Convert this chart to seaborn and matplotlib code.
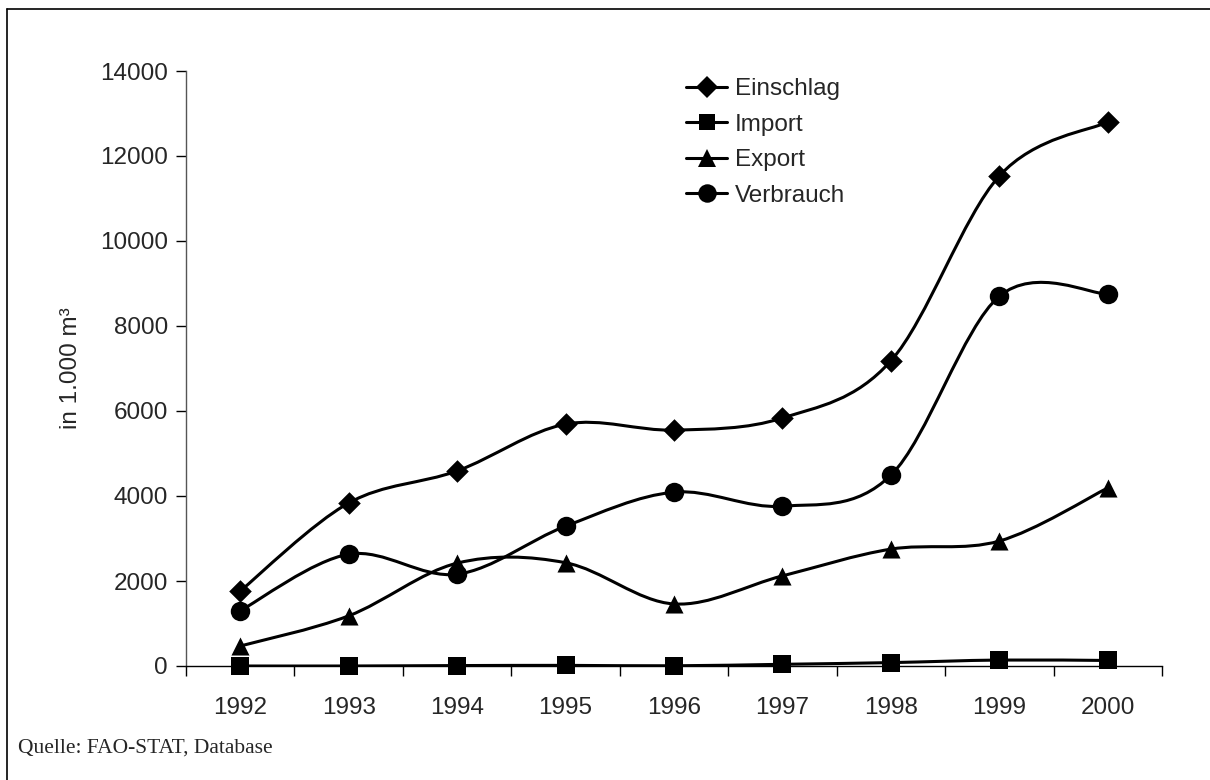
import numpy as np
import matplotlib
matplotlib.use("Agg")
import matplotlib.pyplot as plt
from matplotlib.path import Path
from matplotlib.patches import PathPatch
from matplotlib.lines import Line2D
import seaborn as sns

sns.set_theme(style="white")
plt.rcParams['font.family'] = ['Liberation Sans', 'DejaVu Sans']

years = ['1992', '1993', '1994', '1995', '1996', '1997', '1998', '1999', '2000']
einschlag = [1765, 3835, 4590, 5690, 5550, 5835, 7180, 11530, 12800]
import_ = [0, 0, 10, 15, 5, 40, 80, 140, 130]
export = [470, 1180, 2420, 2430, 1460, 2120, 2750, 2940, 4190]
verbrauch = [1300, 2630, 2160, 3290, 4090, 3760, 4490, 8700, 8750]

series = [('Einschlag', einschlag, 'D', 11.5),
          ('Import', import_, 's', 12.5),
          ('Export', export, '^', 13),
          ('Verbrauch', verbrauch, 'o', 14)]

FS = 17.5


def smooth_path(xs, ys):
    # Excel-like smoothing: cubic Bezier with Catmull-Rom tangents
    pts = np.column_stack([xs, ys]).astype(float)
    n = len(pts)
    verts = [pts[0]]
    codes = [Path.MOVETO]
    for i in range(n - 1):
        p0 = pts[i - 1] if i > 0 else pts[i]
        p1, p2 = pts[i], pts[i + 1]
        p3 = pts[i + 2] if i + 2 < n else pts[i + 1]
        c1 = p1 + (p2 - p0) / 6.0
        c2 = p2 - (p3 - p1) / 6.0
        verts += [c1, c2, p2]
        codes += [Path.CURVE4] * 3
    return Path(verts, codes)


fig = plt.figure(figsize=(12.1, 7.8), dpi=100)
ax = fig.add_axes([186 / 1210, 1 - 666 / 780, (1162 - 186) / 1210, (666 - 71) / 780])

x = np.arange(len(years))
for name, vals, mk, ms in series:
    ax.add_patch(PathPatch(smooth_path(x, vals), fill=False, edgecolor='black',
                           lw=2.2, zorder=2))
    sns.scatterplot(x=x, y=vals, marker=mk, s=ms ** 2, color='black',
                    edgecolor='black', linewidth=0, ax=ax, zorder=3, clip_on=False)

ax.set_xlim(-0.5, len(years) - 0.5)
ax.set_ylim(0, 14000)
ax.set_yticks(np.arange(0, 14001, 2000))
ax.set_xticks(x)
ax.set_xticklabels(years)
ax.set_xticks(np.arange(-0.5, len(years)), minor=True)
ax.tick_params(axis='x', which='major', length=0, pad=22, labelsize=FS)
ax.tick_params(axis='x', which='minor', length=7, width=1, color='black',
               direction='out', bottom=True)
ax.tick_params(axis='y', length=7, width=1, color='black', direction='out',
               left=True, labelsize=FS, pad=6)
for s in ['top', 'right']:
    ax.spines[s].set_visible(False)
ax.spines['left'].set_color('#555555')
ax.spines['bottom'].set_color('black')
ax.spines['left'].set_linewidth(1)
ax.spines['bottom'].set_linewidth(1)
ax.set_xlabel('')
ax.set_ylabel('in 1.000 m³', fontsize=FS, labelpad=13)

handles = [Line2D([0], [0], color='black', lw=2.2, marker=mk, markersize=ms * 0.95,
                  markeredgewidth=0) for _, _, mk, ms in series]
ax.legend(handles, [s[0] for s in series], loc='upper left',
          bbox_to_anchor=(686 / 1210, 1 - 78 / 780), bbox_transform=fig.transFigure,
          frameon=False, fontsize=FS, handlelength=1.7, handletextpad=0.3,
          labelspacing=0.56, borderpad=0, borderaxespad=0)

# outer chart frame (left and top edges visible)
fig.add_artist(Line2D([7 / 1210, 7 / 1210], [0, 1 - 9 / 780], color='black', lw=1.2,
                      transform=fig.transFigure))
fig.add_artist(Line2D([7 / 1210, 1], [1 - 9 / 780, 1 - 9 / 780], color='black', lw=1.2,
                      transform=fig.transFigure))

fig.text(18 / 1210, 1 - 748 / 780, 'Quelle: FAO-STAT, Database',
         family=['Liberation Serif', 'DejaVu Serif'], fontsize=15.5, va='center', ha='left')

fig.savefig('out.png', dpi=100, facecolor='white')
